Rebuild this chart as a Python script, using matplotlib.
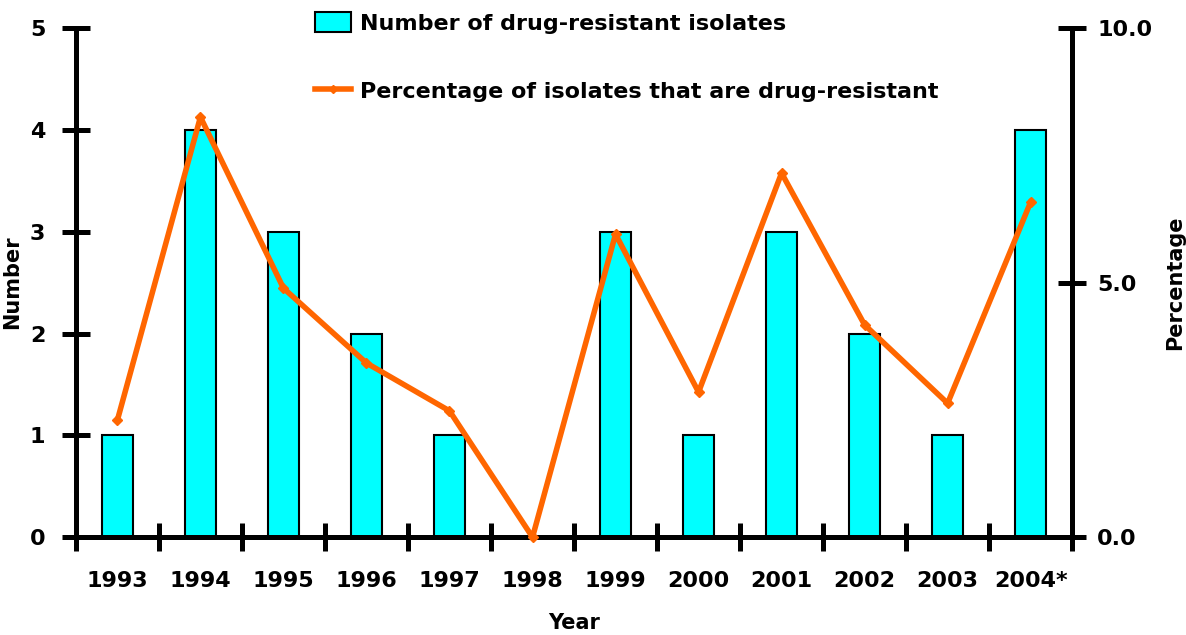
import numpy as np
import matplotlib.pyplot as plt
from matplotlib.lines import Line2D
from matplotlib.patches import Patch

years = ["1993", "1994", "1995", "1996", "1997", "1998",
         "1999", "2000", "2001", "2002", "2003", "2004*"]
counts = [1, 4, 3, 2, 1, 0, 3, 1, 3, 2, 1, 4]
percent = [2.30, 8.25, 4.89, 3.42, 2.48, 0.0, 5.95, 2.85, 7.15, 4.17, 2.63, 6.58]

bar_col = "#00FFFF"
line_col = "#FF6600"

fig = plt.figure(figsize=(11.86, 6.35), dpi=100)
ax = fig.add_axes([0.064, 0.154, 0.840, 0.802])
ax2 = ax.twinx()

x = np.arange(len(years))
ax.bar(x, counts, width=0.38, color=bar_col, edgecolor="black", linewidth=1.5, zorder=2)
ax2.plot(x, percent, color=line_col, lw=4, marker="D", ms=5,
         clip_on=False, zorder=3)

ax.set_xlim(-0.5, len(years) - 0.5)
ax.set_ylim(0, 5)
ax2.set_ylim(0, 10)

for a in (ax, ax2):
    for s in a.spines.values():
        s.set_linewidth(3.6)
    a.spines["top"].set_visible(False)
ax.spines["right"].set_visible(False)
ax2.spines["left"].set_visible(False)
ax2.spines["bottom"].set_visible(False)

# category boundaries carry the tick marks, centres carry the labels
ax.set_xticks(np.arange(-0.5, len(years)), minor=False)
ax.set_xticklabels([])
ax.set_xticks(x, minor=True)
ax.set_xticklabels(years, minor=True)
ax.tick_params(axis="x", which="minor", length=0, pad=24)
ax.tick_params(axis="x", which="major", direction="inout", length=20, width=3.6)

ax.set_yticks(range(0, 6))
ax.tick_params(axis="y", direction="inout", length=20, width=3.6, pad=12)
ax2.set_yticks([0, 5, 10])
ax2.set_yticklabels(["0.0", "5.0", "10.0"])
ax2.tick_params(axis="y", direction="inout", length=20, width=3.6, pad=8)

for a in (ax, ax2):
    for t in a.xaxis.get_major_ticks() + a.yaxis.get_major_ticks():
        t.tick1line.set_solid_capstyle("round")
        t.tick2line.set_solid_capstyle("round")

for lab in ax.get_xticklabels(minor=True) + ax.get_yticklabels() + ax2.get_yticklabels():
    lab.set_fontsize(16)
    lab.set_fontweight("bold")

ax.set_xlabel("Year", fontsize=15, fontweight="bold")
ax.xaxis.set_label_coords(0.5, -0.148)
ax.set_ylabel("Number", fontsize=15, fontweight="bold")
ax.yaxis.set_label_coords(-0.054, 0.5)
ax2.set_ylabel("Percentage", fontsize=15, fontweight="bold")
ax2.yaxis.set_label_coords(1.093, 0.5)

handles = [Patch(facecolor=bar_col, edgecolor="black", linewidth=1.5),
           Line2D([0], [0], color=line_col, lw=4, marker="D", ms=4)]
labels = ["Number of drug-resistant isolates",
          "Percentage of isolates that are drug-resistant"]
fig.legend(handles, labels, loc="upper left", bbox_to_anchor=(0.249, 1.012),
           frameon=False, prop={"size": 16, "weight": "bold"},
           labelspacing=2.1, handlelength=1.6, handleheight=1.0, handletextpad=0.4)

fig.savefig("out.png", dpi=100)
